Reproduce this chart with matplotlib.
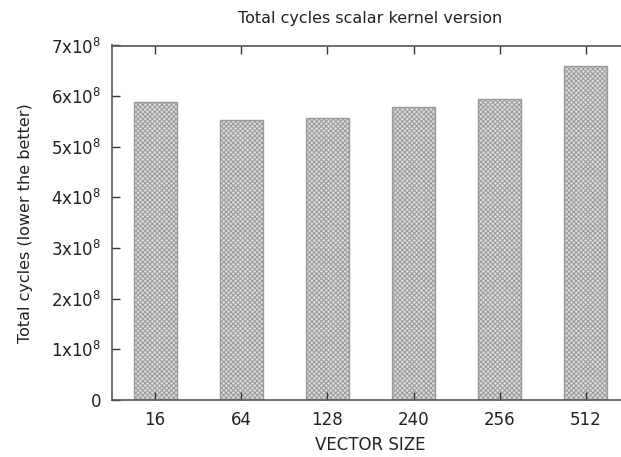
import matplotlib
matplotlib.use("Agg")
import matplotlib.pyplot as plt
import matplotlib.ticker as mticker

sizes = ["16", "64", "128", "240", "256", "512"]
cycles = [5.88e8, 5.52e8, 5.57e8, 5.79e8, 5.94e8, 6.59e8]

plt.rcParams["font.family"] = "DejaVu Sans"
plt.rcParams["mathtext.default"] = "regular"
plt.rcParams["hatch.linewidth"] = 0.7
plt.rcParams["hatch.color"] = "#a0a0a0"

fig = plt.figure(figsize=(6.21, 4.57), dpi=100)
# right border of the original plot falls outside the image
ax = fig.add_axes([112 / 621, 57 / 457, 517 / 621, 354.5 / 457])

x = list(range(len(sizes)))
ax.bar(x, cycles, width=0.5, color="#dcdcdc", edgecolor="#9a9a9a",
       linewidth=1.0, hatch="xxxxxxx")

ax.set_xlim(-0.5, 5.5)
ax.set_ylim(0, 7e8)
ax.set_xticks(x)
ax.set_xticklabels(sizes)
ax.yaxis.set_major_locator(mticker.MultipleLocator(1e8))


def fmt(v, pos):
    n = int(round(v / 1e8))
    if n == 0:
        return "0"
    return r"%dx10$^{8}$" % n


ax.yaxis.set_major_formatter(mticker.FuncFormatter(fmt))
ax.tick_params(direction="in", length=6, width=1, colors="#333333",
               labelsize=12, top=True, right=True, pad=8, labelcolor="#222222")
ax.tick_params(axis="x", pad=8)
for s in ax.spines.values():
    s.set_color("#555555")
    s.set_linewidth(1.2)

ax.set_xlabel("VECTOR SIZE", fontsize=12, labelpad=5, color="#222222")
ax.set_ylabel("Total cycles (lower the better)", fontsize=11.5, labelpad=13,
              color="#222222")
fig.text(370 / 621, 1 - 18 / 457, "Total cycles scalar kernel version",
         ha="center", va="center", fontsize=11.5, color="#222222")

fig.savefig("out.png", dpi=100)
